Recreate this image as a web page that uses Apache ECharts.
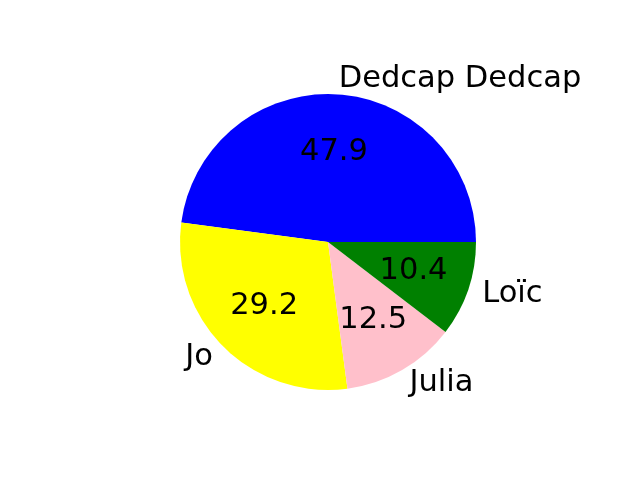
<!DOCTYPE html>
<html>
<head>
<meta charset="utf-8">
<script src="https://cdn.jsdelivr.net/npm/echarts@6/dist/echarts.min.js"></script>
<style>html,body{margin:0;padding:0;background:#fff;}#c{width:640px;height:480px;}</style>
</head>
<body>
<div id="c"></div>
<script>
const labels = ['Dedcap Dedcap', 'Jo', 'Julia', 'Loïc'];
const values = [47.9, 29.2, 12.5, 10.4];
const colors = ['#0000ff', '#ffff00', '#ffc0cb', '#008000'];

const R = 148;
const center = [328, 242];
const font = 'DejaVu Sans';
const fs = 30.5;

const chart = echarts.init(document.getElementById('c'), null, {renderer: 'canvas'});
chart.setOption({
  backgroundColor: '#ffffff',
  animation: false,
  series: [
    {
      type: 'pie',
      center: center,
      radius: [0, R],
      startAngle: 0,
      clockwise: false,
      avoidLabelOverlap: false,
      silent: true,
      data: labels.map((n, i) => ({name: n, value: values[i], itemStyle: {color: colors[i]}})),
      itemStyle: {borderWidth: 0},
      label: {
        show: true,
        position: 'outside',
        formatter: '{b}',
        fontFamily: font,
        fontSize: fs,
        color: '#000',
        padding: [4, 0, 0, 0],
        distanceToLabelLine: 0
      },
      labelLine: {show: false, length: R * 0.1, length2: 0}
    },
    {
      type: 'pie',
      center: center,
      radius: [0, R * 1.18],
      startAngle: 0,
      clockwise: false,
      avoidLabelOverlap: false,
      silent: true,
      z: 3,
      data: labels.map((n, i) => ({name: n, value: values[i]})),
      itemStyle: {color: 'rgba(0,0,0,0)', borderWidth: 0},
      label: {
        show: true,
        position: 'inside',
        formatter: p => p.value.toFixed(1),
        fontFamily: font,
        fontSize: fs,
        padding: [5, 0, 0, 0],
        color: '#000'
      },
      labelLine: {show: false}
    }
  ]
});
</script>
</body>
</html>
